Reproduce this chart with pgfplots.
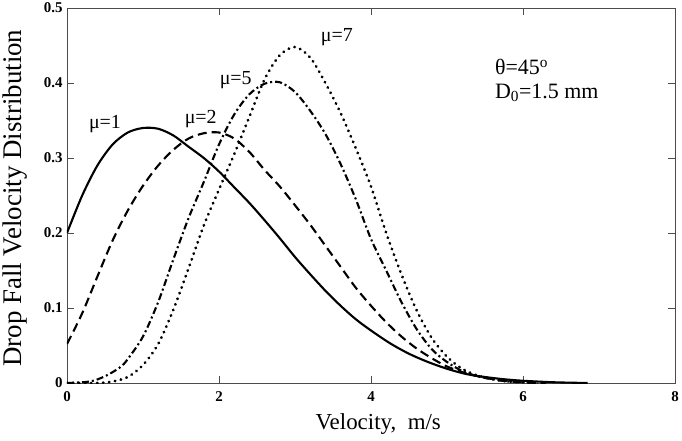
\documentclass[border=0pt]{standalone}
\usepackage{pgfplots}
\pgfplotsset{compat=1.18}
\usepackage{fontspec}
\setmainfont{Liberation Serif}
\begin{document}
\begin{tikzpicture}
\begin{axis}[
  scale only axis, width=608bp, height=375bp,
  xmin=0, xmax=8, ymin=0, ymax=0.5,
  xtick={0,2,4,6,8}, xticklabels={0,2,4,6,8},
  ytick={0,0.1,0.2,0.3,0.4,0.5}, yticklabels={0,0.1,0.2,0.3,0.4,0.5},
  tick align=inside, major tick length=7bp,
  axis line style={line width=0.9bp, color=black!70},
  every tick/.style={line width=0.8bp, color=black!70},
  ticklabel style={font=\bfseries\fontsize{15}{15}\selectfont},
  xticklabel style={yshift=-5bp},
  yticklabel style={xshift=-1bp},
  /pgf/number format/assume math mode=true,
  xlabel={Velocity,\ \ m/s},
  ylabel={Drop Fall Velocity Distribution},
  label style={font=\fontsize{23}{23}\selectfont},
  xlabel style={at={(axis description cs:0.512,-0.109)}, anchor=center},
  ylabel style={at={(axis description cs:-0.0855,0.493)}, anchor=center, font=\fontsize{27}{27}\selectfont},
]
% mu = 1 (solid)
\addplot[black, solid, mark=none, line width=2.1bp, smooth] coordinates {
(0,0.200) (0.2,0.250) (0.4,0.290) (0.6,0.318) (0.8,0.334) (1.0,0.340) (1.2,0.339)
(1.4,0.330) (1.6,0.315) (1.8,0.300) (2.0,0.282) (2.2,0.261) (2.4,0.240) (2.6,0.217)
(2.8,0.193) (3.0,0.168) (3.2,0.145) (3.4,0.123) (3.6,0.103) (3.8,0.085) (4.0,0.070)
(4.25,0.053) (4.5,0.039) (4.75,0.028) (5.0,0.019) (5.25,0.012) (5.5,0.008) (5.75,0.005)
(6.0,0.003) (6.4,0.001) (6.85,0.000)};
% mu = 2 (dashed)
\addplot[black, mark=none, line width=2.1bp, smooth, dash pattern=on 9bp off 5bp] coordinates {
(0,0.052) (0.2,0.093) (0.4,0.142) (0.6,0.190) (0.8,0.230) (1.0,0.263) (1.2,0.290)
(1.4,0.311) (1.6,0.326) (1.8,0.333) (2.0,0.334) (2.2,0.326) (2.4,0.308) (2.6,0.284)
(2.8,0.262) (3.0,0.237) (3.2,0.211) (3.4,0.183) (3.6,0.155) (3.8,0.127) (4.0,0.103)
(4.2,0.081) (4.4,0.062) (4.6,0.046) (4.8,0.033) (5.0,0.022) (5.25,0.013) (5.5,0.007)
(5.75,0.003) (6.0,0.001) (6.3,0.000)};
% mu = 5 (dash-dot)
\addplot[black, mark=none, line width=2.1bp, smooth, dash pattern=on 7bp off 3bp on 2bp off 3bp] coordinates {
(0,0.000) (0.3,0.002) (0.5,0.009) (0.7,0.021) (0.8,0.032) (1.0,0.062) (1.2,0.108)
(1.4,0.165) (1.6,0.220) (1.8,0.268) (2.0,0.318) (2.2,0.358) (2.4,0.385) (2.6,0.399)
(2.8,0.401) (3.0,0.388) (3.2,0.363) (3.4,0.332) (3.6,0.292) (3.8,0.245) (4.0,0.192)
(4.2,0.150) (4.4,0.108) (4.6,0.072) (4.8,0.045) (5.0,0.028) (5.2,0.016) (5.4,0.009)
(5.6,0.005) (5.8,0.002) (6.0,0.001) (6.2,0.000)};
% mu = 7 (dotted)
\addplot[black, mark=none, smooth, line cap=round, line width=2.8bp, dash pattern=on 0.4bp off 5.6bp] coordinates {
(0,0.000) (0.4,0.000) (0.6,0.002) (0.8,0.008) (1.0,0.024) (1.2,0.052) (1.4,0.098)
(1.6,0.153) (1.8,0.210) (2.0,0.258) (2.2,0.305) (2.4,0.355) (2.6,0.405) (2.8,0.437)
(3.0,0.448) (3.2,0.434) (3.4,0.400) (3.6,0.360) (3.8,0.313) (4.0,0.262) (4.2,0.200)
(4.4,0.145) (4.6,0.097) (4.8,0.060) (5.0,0.035) (5.2,0.019) (5.4,0.010) (5.6,0.005)
(5.8,0.002) (6.0,0.001) (6.2,0.000)};
\node[font=\fontsize{20}{20}\selectfont] at (axis cs:0.50,0.345) {μ=1};
\node[font=\fontsize{20}{20}\selectfont] at (axis cs:1.76,0.352) {μ=2};
\node[font=\fontsize{20}{20}\selectfont] at (axis cs:2.22,0.404) {μ=5};
\node[font=\fontsize{20}{20}\selectfont] at (axis cs:3.55,0.461) {μ=7};
\node[font=\fontsize{22}{22}\selectfont, anchor=west, inner sep=0pt] at (axis cs:5.63,0.421) {θ=45\textsuperscript{o}};
\node[font=\fontsize{22}{22}\selectfont, anchor=west, inner sep=0pt] at (axis cs:5.63,0.387) {D\textsubscript{0}=1.5 mm};
\end{axis}
\pgfresetboundingbox
\path ([shift={(-67bp,-58bp)}]current axis.south west) rectangle ([shift={(7bp,8bp)}]current axis.north east);
\end{tikzpicture}
\end{document}
